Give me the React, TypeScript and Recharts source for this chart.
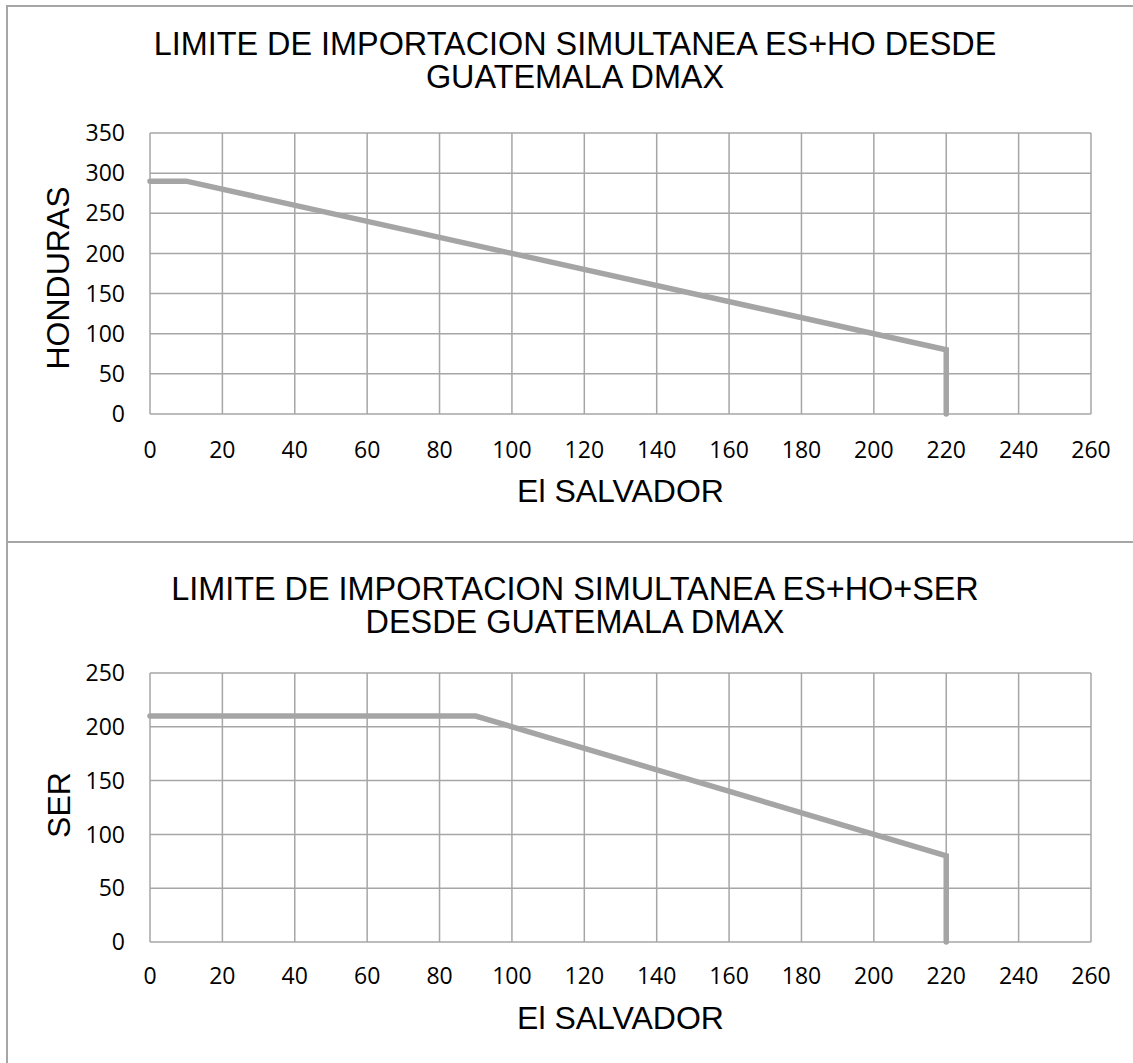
import React from "react";
import { LineChart, Line, XAxis, YAxis, CartesianGrid } from "recharts";

// ─── Data ─────────────────────────────────────────────────────────────────────

const X_TICKS = [0, 20, 40, 60, 80, 100, 120, 140, 160, 180, 200, 220, 240, 260];
const HO_TICKS = [0, 50, 100, 150, 200, 250, 300, 350];
const SER_TICKS = [0, 50, 100, 150, 200, 250];

// top chart: El Salvador vs Honduras
const HO_ES = [0, 10, 220, 220];
const HO_VALUES = [290, 290, 80, 0];

// bottom chart: El Salvador vs SER
const SER_ES = [0, 90, 220, 220];
const SER_VALUES = [210, 210, 80, 0];

const hoData = HO_ES.map((es, i) => ({ es, v: HO_VALUES[i] }));
const serData = SER_ES.map((es, i) => ({ es, v: SER_VALUES[i] }));

// ─── Styles ───────────────────────────────────────────────────────────────────

const GRID_COLOR = "#A6A6A6";
const LINE_COLOR = "#A5A5A5";
const TITLE_FONT = "'Liberation Sans', Arial, sans-serif";
const TICK_FONT = "'Open Sans', sans-serif";

const TICK_STYLE = { fontFamily: TICK_FONT, fontSize: 23, fill: "#000" };

const titleStyle: React.CSSProperties = {
  position: "absolute",
  left: 0,
  width: 1150,
  textAlign: "center",
  fontFamily: TITLE_FONT,
  fontSize: 32.4,
  lineHeight: "33px",
  whiteSpace: "nowrap",
  color: "#000",
};

function YTitle({ text, x, y }: { text: string; x: number; y: number }) {
  return (
    <text
      x={x}
      y={y}
      transform={`rotate(-90 ${x} ${y})`}
      textAnchor="middle"
      fontFamily={TITLE_FONT}
      fontSize={32}
      fill="#000"
    >
      {text}
    </text>
  );
}

interface PanelProps {
  data: { es: number; v: number }[];
  yTicks: number[];
  yMax: number;
  yTitle: string;
  height: number;
  xAxisHeight: number;
  tickMargin: number;
  labelOffset: number;
  yTitlePos: { x: number; y: number };
}

function Panel(p: PanelProps) {
  return (
    <LineChart
      width={1133}
      height={p.height}
      data={p.data}
      margin={{ top: 133, right: 42, left: 0, bottom: 0 }}
    >
      <CartesianGrid stroke={GRID_COLOR} strokeWidth={1.5} />
      <XAxis
        dataKey="es"
        type="number"
        domain={[0, 260]}
        ticks={X_TICKS}
        interval={0}
        axisLine={false}
        tickLine={false}
        tickSize={0}
        tickMargin={p.tickMargin}
        tick={TICK_STYLE}
        height={p.xAxisHeight}
        label={{
          value: "El SALVADOR",
          position: "insideBottom",
          offset: p.labelOffset,
          style: { fontFamily: TITLE_FONT, fontSize: 32, fill: "#000" },
        }}
      />
      <YAxis
        type="number"
        domain={[0, p.yMax]}
        ticks={p.yTicks}
        interval={0}
        axisLine={false}
        tickLine={false}
        tickSize={0}
        tickMargin={25}
        tick={TICK_STYLE}
        width={150}
        label={{
          content: () => <YTitle text={p.yTitle} x={p.yTitlePos.x} y={p.yTitlePos.y} />,
        }}
      />
      <Line
        type="linear"
        dataKey="v"
        stroke={LINE_COLOR}
        strokeWidth={5.5}
        strokeLinecap="round"
        dot={false}
        activeDot={false}
        isAnimationActive={false}
      />
    </LineChart>
  );
}

export default function App() {
  return (
    <div
      style={{
        position: "relative",
        width: 1133,
        height: 1063,
        overflow: "hidden",
        background: "#fff",
      }}
    >
      <style>{"body{margin:0}"}</style>

      {/* frames */}
      <div
        style={{
          position: "absolute",
          left: 6,
          top: 5,
          width: 1140,
          height: 538,
          border: `2px solid ${GRID_COLOR}`,
          boxSizing: "border-box",
        }}
      />
      <div
        style={{
          position: "absolute",
          left: 6,
          top: 543,
          width: 1140,
          height: 540,
          borderLeft: `2px solid ${GRID_COLOR}`,
          boxSizing: "border-box",
        }}
      />

      <div style={{ position: "absolute", left: 0, top: 0 }}>
        <Panel
          data={hoData}
          yTicks={HO_TICKS}
          yMax={350}
          yTitle="HONDURAS"
          height={540}
          xAxisHeight={126}
          tickMargin={28}
          labelOffset={38}
          yTitlePos={{ x: 69, y: 278 }}
        />
      </div>
      <div style={{ position: "absolute", left: 0, top: 540 }}>
        <Panel
          data={serData}
          yTicks={SER_TICKS}
          yMax={250}
          yTitle="SER"
          height={523}
          xAxisHeight={121}
          tickMargin={26}
          labelOffset={34}
          yTitlePos={{ x: 70, y: 265 }}
        />
      </div>

      <div style={{ ...titleStyle, top: 28 }}>
        LIMITE DE IMPORTACION SIMULTANEA ES+HO DESDE
        <br />
        GUATEMALA DMAX
      </div>
      <div style={{ ...titleStyle, top: 573 }}>
        LIMITE DE IMPORTACION SIMULTANEA ES+HO+SER
        <br />
        DESDE GUATEMALA DMAX
      </div>
    </div>
  );
}
